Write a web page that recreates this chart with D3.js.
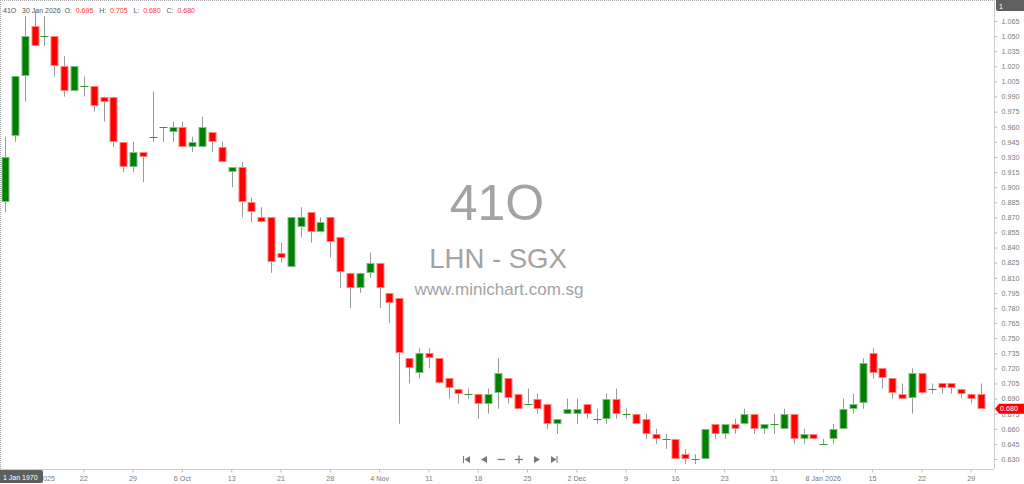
<!DOCTYPE html>
<html><head><meta charset="utf-8">
<script src="https://cdn.jsdelivr.net/npm/d3@7"></script>
<style>body{margin:0;background:#fff}svg{display:block}</style>
</head><body><svg id="c" width="1024" height="484"></svg>
<script>
const dates = [
"2025-09-10","2025-09-11","2025-09-12","2025-09-15","2025-09-16","2025-09-17","2025-09-18","2025-09-19",
"2025-09-22","2025-09-23","2025-09-24","2025-09-25","2025-09-26","2025-09-29","2025-09-30",
"2025-10-01","2025-10-02","2025-10-03","2025-10-06","2025-10-07","2025-10-08","2025-10-09","2025-10-10",
"2025-10-13","2025-10-14","2025-10-15","2025-10-16","2025-10-17","2025-10-21","2025-10-22","2025-10-23","2025-10-24",
"2025-10-27","2025-10-28","2025-10-29","2025-10-30","2025-10-31",
"2025-11-03","2025-11-04","2025-11-05","2025-11-06","2025-11-07","2025-11-10","2025-11-11","2025-11-12","2025-11-13","2025-11-14",
"2025-11-17","2025-11-18","2025-11-19","2025-11-20","2025-11-21","2025-11-24","2025-11-25","2025-11-26","2025-11-27","2025-11-28",
"2025-12-01","2025-12-02","2025-12-03","2025-12-04","2025-12-05","2025-12-08","2025-12-09","2025-12-10","2025-12-11","2025-12-12",
"2025-12-15","2025-12-16","2025-12-17","2025-12-18","2025-12-19","2025-12-22","2025-12-23","2025-12-24","2025-12-26",
"2025-12-29","2025-12-30","2025-12-31",
"2026-01-02","2026-01-05","2026-01-06","2026-01-07","2026-01-08","2026-01-09","2026-01-12","2026-01-13","2026-01-14","2026-01-15","2026-01-16",
"2026-01-19","2026-01-20","2026-01-21","2026-01-22","2026-01-23","2026-01-26","2026-01-27","2026-01-28","2026-01-29","2026-01-30"];

const open = [0.885,0.950,1.010,1.060,1.050,1.050,1.020,0.995,1.000,1.000,
0.990,0.990,0.945,0.920,0.935,0.950,0.960,0.955,0.960,0.940,
0.940,0.955,0.940,0.915,0.920,0.885,0.870,0.870,0.835,0.820,
0.860,0.875,0.855,0.870,0.850,0.815,0.800,0.815,0.825,0.795,
0.790,0.730,0.715,0.735,0.730,0.710,0.700,0.695,0.695,0.685,
0.695,0.710,0.695,0.685,0.690,0.685,0.665,0.675,0.675,0.685,
0.670,0.670,0.690,0.675,0.675,0.670,0.655,0.650,0.650,0.635,
0.630,0.630,0.665,0.655,0.665,0.665,0.675,0.660,0.665,0.660,
0.675,0.650,0.655,0.645,0.650,0.660,0.680,0.685,0.735,0.720,
0.710,0.695,0.690,0.715,0.700,0.705,0.705,0.700,0.695,0.695];
const high = [0.950,1.010,1.070,1.075,1.070,1.050,1.030,1.020,1.010,1.000,
0.990,0.990,0.945,0.945,0.935,0.995,0.960,0.965,0.965,0.950,
0.970,0.955,0.945,0.920,0.925,0.890,0.880,0.870,0.845,0.870,
0.880,0.875,0.870,0.870,0.850,0.815,0.815,0.835,0.825,0.795,
0.790,0.730,0.740,0.740,0.730,0.710,0.700,0.700,0.695,0.700,
0.730,0.710,0.695,0.700,0.695,0.685,0.670,0.690,0.690,0.685,
0.680,0.695,0.700,0.680,0.675,0.675,0.660,0.655,0.650,0.640,
0.635,0.660,0.665,0.665,0.670,0.680,0.675,0.665,0.675,0.680,
0.675,0.660,0.655,0.650,0.665,0.690,0.695,0.730,0.740,0.720,
0.710,0.705,0.720,0.715,0.705,0.705,0.705,0.700,0.695,0.705];
const low = [0.875,0.945,0.985,1.040,1.040,1.010,0.990,0.995,0.990,0.975,
0.965,0.940,0.915,0.915,0.905,0.945,0.945,0.945,0.940,0.935,
0.940,0.935,0.925,0.900,0.870,0.865,0.865,0.815,0.825,0.820,
0.850,0.845,0.855,0.830,0.800,0.780,0.795,0.810,0.780,0.765,
0.665,0.705,0.710,0.720,0.705,0.690,0.685,0.690,0.670,0.675,
0.680,0.685,0.680,0.685,0.675,0.660,0.655,0.675,0.665,0.670,
0.665,0.665,0.670,0.670,0.665,0.650,0.645,0.640,0.630,0.625,
0.625,0.630,0.650,0.650,0.655,0.665,0.655,0.655,0.655,0.660,
0.645,0.645,0.650,0.645,0.645,0.660,0.675,0.680,0.710,0.700,
0.690,0.690,0.675,0.695,0.695,0.695,0.695,0.690,0.685,0.680];
const close = [0.930,1.010,1.050,1.040,1.050,1.020,0.995,1.020,1.000,0.980,
0.985,0.945,0.920,0.935,0.930,0.950,0.960,0.960,0.940,0.945,
0.960,0.945,0.925,0.920,0.885,0.875,0.865,0.825,0.830,0.870,
0.870,0.855,0.865,0.845,0.815,0.800,0.815,0.825,0.800,0.785,
0.735,0.720,0.735,0.730,0.705,0.700,0.695,0.695,0.685,0.695,
0.715,0.690,0.680,0.685,0.680,0.665,0.670,0.680,0.680,0.675,
0.670,0.690,0.675,0.675,0.665,0.655,0.650,0.650,0.630,0.630,
0.630,0.660,0.655,0.665,0.660,0.675,0.660,0.665,0.665,0.675,
0.650,0.655,0.650,0.645,0.660,0.680,0.685,0.725,0.715,0.710,
0.695,0.690,0.715,0.695,0.700,0.700,0.700,0.695,0.690,0.680];

const yTicks = [1.065,1.050,1.035,1.020,1.005,0.990,0.975,0.960,0.945,0.930,0.915,0.900,0.885,0.870,0.855,
0.840,0.825,0.810,0.795,0.780,0.765,0.750,0.735,0.720,0.705,0.690,0.675,0.660,0.645,0.630];
const xTickDates = ["2025-09-15","2025-09-22","2025-09-29","2025-10-06","2025-10-13","2025-10-21","2025-10-28","2025-11-04",
"2025-11-11","2025-11-18","2025-11-25","2025-12-02","2025-12-09","2025-12-16","2025-12-23","2025-12-31","2026-01-08","2026-01-15","2026-01-22","2026-01-29"];
const xTickText = ["15 Sep 2025","22","29","6 Oct","13","21","28","4 Nov","11","18","25","2 Dec","9","16","23","31","8 Jan 2026","15","22","29"];

const symbol = "41O";
const title = "LHN - SGX";
const site = "www.minichart.com.sg";
const lastDate = "30 Jan 2026";

const svg = d3.select("#c");
const W = 1024, H = 484, plotR = 994, plotB = 469;
const font = "'Liberation Sans', Arial, sans-serif";
svg.append("rect").attr("width", W).attr("height", H).attr("fill", "#fff");

const x = d3.scaleBand().domain(dates).range([0, 986]).padding(0);
const y = d3.scaleLinear().domain([0.630, 1.065]).range([459, 21]);

// borders
svg.append("line").attr("x1", 0.5).attr("x2", 0.5).attr("y1", 0).attr("y2", plotB)
  .attr("stroke", "#aaa").attr("stroke-dasharray", "1,1");
svg.append("line").attr("x1", 0).attr("x2", plotR).attr("y1", 0.5).attr("y2", 0.5)
  .attr("stroke", "#aaa").attr("stroke-dasharray", "1,1");
svg.append("line").attr("x1", plotR + 0.5).attr("x2", plotR + 0.5).attr("y1", 0).attr("y2", plotB)
  .attr("stroke", "#ccc");
svg.append("line").attr("x1", 0).attr("x2", plotR).attr("y1", plotB + 0.5).attr("y2", plotB + 0.5)
  .attr("stroke", "#ccc");

// watermark
const wm = svg.append("g").attr("fill", "#a3a3a3").attr("font-family", font).attr("text-anchor", "middle");
wm.append("text").attr("x", 497).attr("y", 220).attr("font-size", 50).text(symbol);
wm.append("text").attr("x", 498).attr("y", 268).attr("font-size", 27.5).text(title);
wm.append("text").attr("x", 499).attr("y", 295).attr("font-size", 17).text(site);

// candles
const data = dates.map((d, i) => ({d, o: open[i], h: high[i], l: low[i], c: close[i]}));
const cg = svg.append("g");
const cx = d => Math.round(x(d.d) + x.bandwidth() / 2);
cg.selectAll("line.wick").data(data).join("line")
  .attr("x1", d => cx(d) + 0.5).attr("x2", d => cx(d) + 0.5)
  .attr("y1", d => y(d.h)).attr("y2", d => y(d.l))
  .attr("stroke", "#999").attr("stroke-width", 1);
const bodies = data.filter(d => d.o !== d.c);
cg.selectAll("rect.body").data(bodies).join("rect")
  .attr("x", d => cx(d) - 3 ).attr("width", 7)
  .attr("y", d => Math.round(y(Math.max(d.o, d.c))) + 0.5)
  .attr("height", d => Math.max(1, Math.round(Math.abs(y(d.o) - y(d.c))) - 1))
  .attr("fill", d => d.c > d.o ? "#008000" : "#ff0000")
  .attr("stroke", d => d.c > d.o ? "#7fbf7f" : "#ff8080").attr("stroke-width", 1);
const dojis = data.filter(d => d.o === d.c);
cg.selectAll("line.doji").data(dojis).join("line")
  .attr("x1", d => cx(d) - 3.5).attr("x2", d => cx(d) + 4.5)
  .attr("y1", d => Math.round(y(d.c)) + 0.5).attr("y2", d => Math.round(y(d.c)) + 0.5)
  .attr("stroke", "#2e9a2e").attr("stroke-width", 1);

// right axis
const ya = svg.append("g").attr("transform", `translate(${plotR + 0.5},0)`)
  .call(d3.axisRight(y).tickValues(yTicks).tickSize(3).tickPadding(4).tickFormat(d3.format(".3f")));
ya.select(".domain").remove();
ya.selectAll(".tick line").attr("stroke", "#bbb");
ya.selectAll(".tick text").attr("fill", "#7a7a7a").attr("font-size", 7.2).attr("font-family", font);

// bottom axis
const xa = svg.append("g").attr("transform", `translate(0,${plotB + 0.5})`)
  .call(d3.axisBottom(x).tickValues(xTickDates).tickSize(3).tickPadding(3)
    .tickFormat(d => xTickText[xTickDates.indexOf(d)]));
xa.select(".domain").remove();
xa.selectAll(".tick line").attr("stroke", "#bbb");
xa.selectAll(".tick text").attr("fill", "#7a7a7a").attr("font-size", 7.2).attr("font-family", font);

// 1 Jan 1970 box (crosshair time label, covers the first date label as in the reference)
svg.append("rect").attr("x", -3).attr("y", 470).attr("width", 46).attr("height", 13).attr("rx", 2)
  .attr("fill", "#5f5f5f");
svg.append("text").attr("x", 3).attr("y", 479.5).attr("fill", "#fff").attr("font-size", 7)
  .attr("font-family", font).text("1 Jan 1970");

// top-right box
svg.append("rect").attr("x", 996).attr("y", -2).attr("width", 30).attr("height", 13).attr("rx", 2).attr("fill", "#5f5f5f");
svg.append("text").attr("x", 999).attr("y", 8.5).attr("fill", "#fff").attr("font-size", 7)
  .attr("font-family", font).text("1");

// last price marker
const lp = close[close.length - 1];
const ly = y(lp);
svg.append("path").attr("d", `M${plotR + 1},${ly} L${plotR + 5},${ly - 5} L1024,${ly - 5} L1024,${ly + 5} L${plotR + 5},${ly + 5} Z`)
  .attr("fill", "#ff0000");
svg.append("text").attr("x", 1000).attr("y", ly + 2.5).attr("fill", "#fff").attr("font-size", 7.2)
  .attr("font-family", font).text(d3.format(".3f")(lp));

// header
const hdr = svg.append("text").attr("x", 3).attr("y", 13).attr("font-size", 7).attr("font-family", font);
const last = data[data.length - 1];
const parts = [
  [symbol + "   " + lastDate + "  O:  ", "#555"], [d3.format(".3f")(last.o), "#ff3333"],
  ["   H:  ", "#555"], [d3.format(".3f")(last.h), "#ff3333"],
  ["   L:  ", "#555"], [d3.format(".3f")(last.l), "#ff3333"],
  ["   C:  ", "#555"], [d3.format(".3f")(last.c), "#ff3333"]];
hdr.attr("xml:space", "preserve").style("white-space", "pre");
parts.forEach(p => hdr.append("tspan").attr("fill", p[1]).text(p[0]));

// navigation icons
const nav = svg.append("g").attr("fill", "#777").attr("stroke", "#777");
const ny = 459.5;
nav.append("rect").attr("x", 463).attr("y", ny - 3.5).attr("width", 1).attr("height", 7).attr("stroke", "none");
nav.append("path").attr("d", `M464.5,${ny} L470,${ny - 3.5} L470,${ny + 3.5} Z`).attr("stroke", "none");
nav.append("path").attr("d", `M481,${ny} L487,${ny - 3.5} L487,${ny + 3.5} Z`).attr("stroke", "none");
nav.append("line").attr("x1", 497.5).attr("x2", 505).attr("y1", ny).attr("y2", ny).attr("stroke-width", 1.2);
nav.append("line").attr("x1", 515).attr("x2", 523).attr("y1", ny).attr("y2", ny).attr("stroke-width", 1.2);
nav.append("line").attr("x1", 519).attr("x2", 519).attr("y1", ny - 4).attr("y2", ny + 4).attr("stroke-width", 1.2);
nav.append("path").attr("d", `M534,${ny - 3.5} L534,${ny + 3.5} L540,${ny} Z`).attr("stroke", "none");
nav.append("path").attr("d", `M551,${ny - 3.5} L551,${ny + 3.5} L556.5,${ny} Z`).attr("stroke", "none");
nav.append("rect").attr("x", 556.5).attr("y", ny - 3.5).attr("width", 1).attr("height", 7).attr("stroke", "none");
</script></body></html>
